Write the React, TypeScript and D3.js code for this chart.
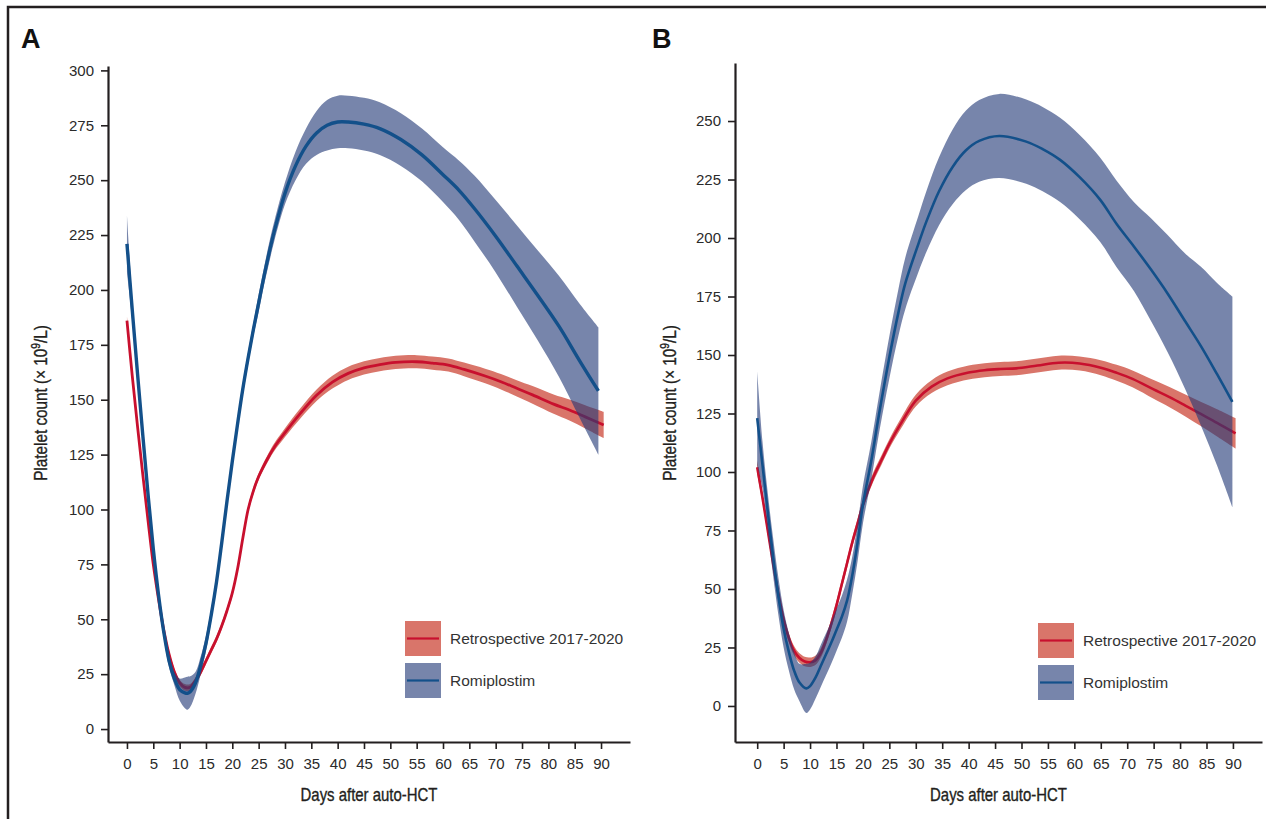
import { useEffect, useRef } from "react";
import * as d3 from "d3";

const WIDTH = 1266;
const HEIGHT = 819;

const dayTicks = [0, 5, 10, 15, 20, 25, 30, 35, 40, 45, 50, 55, 60, 65, 70, 75, 80, 85, 90];
const aCountTicks = [0, 25, 50, 75, 100, 125, 150, 175, 200, 225, 250, 275, 300];
const bCountTicks = [0, 25, 50, 75, 100, 125, 150, 175, 200, 225, 250];
const seriesNames = ["Retrospective 2017-2020", "Romiplostim"];

// Panel A - retrospective cohort (mean and half-width of the band)
const aRetroDays = [0, 1, 2, 3, 4, 5, 6, 7, 8, 9, 10, 11, 12, 13, 14, 15, 16, 17, 18, 19, 20, 21, 22, 23, 24, 25, 26, 27, 28, 30, 33, 36, 39, 42, 45, 48, 51, 55, 58, 61, 64, 68, 71, 74, 77, 81, 84, 87, 90.5];
const aRetroMean = [186, 161, 138, 116, 95, 75, 59, 45, 34, 26, 21, 19, 19, 22, 26, 31, 36, 41, 47, 54, 62, 73, 87, 100, 108.5, 115, 120, 124.5, 128.5, 135, 144, 152, 158, 162, 164.5, 166, 167, 167.3, 166.7, 165.8, 163.8, 160.8, 158.2, 155.2, 152.2, 148, 145.3, 142.2, 138.5];
const aRetroCi = [2, 1.5, 1.5, 1.5, 1.5, 1.5, 1.5, 1.5, 1.5, 1.5, 1.5, 1.5, 1.5, 1.5, 1.5, 1.5, 1.5, 1.5, 1.5, 1.5, 1.5, 1.5, 1.5, 1.5, 1.5, 1.5, 1.6, 1.7, 1.8, 2, 2.3, 2.6, 2.9, 3, 3, 3, 3, 3, 3, 3, 3.1, 3.3, 3.5, 3.7, 4, 4.4, 4.8, 5.3, 6];

// Panel A - romiplostim
const aRomiDays = [0, 1, 2, 3, 4, 5, 6, 7, 8, 9, 10, 11, 11.5, 12, 13, 14, 15, 16, 17, 18, 19, 20, 21, 22, 23, 24, 25, 26, 27, 28, 30, 32, 34, 36, 38, 40, 42, 45, 48, 52, 56, 60, 63, 66, 70, 74, 78, 82, 86, 89.5];
const aRomiMean = [221, 191, 162, 134, 107, 82, 61, 44, 31, 23, 18, 16.5, 16.3, 17, 21, 29, 39, 52, 67, 85, 104, 122, 139, 155, 169, 182, 194, 206, 217, 227, 244, 256.5, 265.5, 271.5, 275, 276.5, 276.5, 275.5, 273.5, 268.5, 261.5, 252.5, 245.5, 237, 224.5, 211, 197.5, 183.5, 167.5, 154];
const aRomiCi = [13, 5, 3.5, 3, 3, 3, 3, 3, 3, 3, 5, 7, 7.5, 7, 5, 4, 3.5, 3, 3, 3, 3, 3, 3, 3, 3, 3, 4, 4, 4.5, 4.5, 5, 6.5, 8, 10, 11.5, 12, 12, 12, 12, 12, 12, 12.5, 13.5, 15, 16.5, 18.5, 20.5, 23, 26, 29];

// Panel B - retrospective cohort
const bRetroDays = [0, 1, 2, 3, 4, 5, 6, 7, 8, 9, 10, 11, 12, 13, 14, 15, 16, 17, 18, 19, 20, 22, 23.5, 25, 27, 30, 33, 36, 40, 43, 46, 49, 53, 57, 61, 65, 68, 71, 75, 78, 81, 84, 87, 90.5];
const bRetroMean = [102, 89, 75, 61, 48, 37, 29, 23.5, 20.5, 19, 18.7, 19.5, 22.5, 28, 35, 43, 52, 61, 70, 78, 86, 98, 105, 112, 120, 130.5, 136.5, 140, 142.5, 143.5, 144, 144.3, 145.5, 146.7, 146.4, 144.6, 142.4, 139.8, 135.3, 132, 128.4, 124.7, 121, 116.5];
const bRetroCi = [3, 2, 2, 2, 2, 2, 2, 2, 2, 2, 2, 2, 2, 2, 2, 2, 2, 2, 2, 2, 2, 2, 2, 2, 2.2, 2.5, 2.7, 2.9, 3, 3, 3, 3, 3, 3, 3, 3.2, 3.4, 3.6, 4, 4.3, 4.7, 5.2, 5.8, 6.5];

// Panel B - romiplostim
const bRomiDays = [0, 1, 2, 3, 4, 5, 6, 7, 8, 9.3, 10, 11, 12, 13, 14, 15, 16, 17, 18, 19, 20, 21.6, 23, 25, 26.7, 28, 30.5, 32, 34.4, 37, 39.5, 42, 45.8, 50.9, 54, 57.3, 61, 64.9, 68, 71.3, 74.5, 77.6, 81, 84, 87, 89.9];
const bRomiMean = [123, 103, 83, 64, 47, 33, 23, 15, 10, 7.5, 8.5, 12, 17, 22, 27, 32.5, 38, 45, 56, 70, 86, 105, 124, 149, 168, 180.5, 197.5, 207, 220, 230.5, 237.5, 241.5, 243.6, 241.2, 238, 233.4, 226, 216.3, 206, 196.3, 186.5, 176.4, 164.3, 153.6, 141.8, 130];
const bRomiCi = [20, 10, 8, 8, 8, 8, 8, 8, 8, 10.5, 10, 9, 9, 9, 9, 9, 9, 9, 8, 8, 8, 8, 8, 9, 10, 11, 12, 13, 14.5, 16, 17, 17.5, 18, 18, 18, 18, 18, 18, 18.5, 19, 22, 25, 29, 34, 39, 45];

const RED_BAND = "#d9756a";
const RED_LINE = "#c8102e";
const BLUE_BAND = "rgba(36,58,120,0.62)";
const BLUE_LINE = "#13508a";
const INK = "#231f20";
const FONT = "'Liberation Sans', Arial, sans-serif";

type Row = { d: number; m: number; lo: number; hi: number };
const rows = (days: number[], mean: number[], ci: number[]): Row[] =>
  days.map((d, i) => ({ d, m: mean[i], lo: mean[i] - ci[i], hi: mean[i] + ci[i] }));

const panels = [
  {
    label: "A",
    x: d3.scaleLinear().domain([-3.6, 95.5]).range([108, 630]),
    y: d3.scaleLinear().domain([-5.9, 302]).range([742, 66]),
    yTicks: aCountTicks,
    retro: rows(aRetroDays, aRetroMean, aRetroCi),
    romi: rows(aRomiDays, aRomiMean, aRomiCi),
    blueWidth: 3.4,
    redWidth: 2.8,
    legend: [405, 621],
    labelX: 21,
    yTitleX: 47,
  },
  {
    label: "B",
    x: d3.scaleLinear().domain([-4.2, 95.5]).range([735, 1262]),
    y: d3.scaleLinear().domain([-15.4, 274.8]).range([742, 63]),
    yTicks: bCountTicks,
    retro: rows(bRetroDays, bRetroMean, bRetroCi),
    romi: rows(bRomiDays, bRomiMean, bRomiCi),
    blueWidth: 2.6,
    redWidth: 2.6,
    legend: [1038, 623],
    labelX: 652,
    yTitleX: 676,
  },
];

const App = () => {
  const svgRef = useRef<SVGSVGElement>(null);

  useEffect(() => {
    const svg = d3.select(svgRef.current);
    svg.selectAll("*").remove();

    // figure frame (top and left edges)
    svg.append("path")
      .attr("d", `M8,${HEIGHT} L8,7 L${WIDTH},7`)
      .attr("fill", "none")
      .attr("stroke", INK)
      .attr("stroke-width", 2.5);

    const curve = d3.curveCatmullRom.alpha(0.5);

    panels.forEach((p) => {
      const g = svg.append("g");
      const { x, y } = p;

      const area = d3.area<Row>()
        .x((d) => x(d.d))
        .y0((d) => y(d.lo))
        .y1((d) => y(d.hi))
        .curve(curve);
      const line = d3.line<Row>()
        .x((d) => x(d.d))
        .y((d) => y(d.m))
        .curve(curve);

      g.append("path").attr("d", area(p.retro)).attr("fill", RED_BAND);
      g.append("path").attr("d", line(p.retro)).attr("fill", "none")
        .attr("stroke", RED_LINE).attr("stroke-width", p.redWidth);
      g.append("path").attr("d", area(p.romi)).attr("fill", BLUE_BAND);
      g.append("path").attr("d", line(p.romi)).attr("fill", "none")
        .attr("stroke", BLUE_LINE).attr("stroke-width", p.blueWidth);

      // axes
      const xAxis = g.append("g")
        .attr("transform", `translate(0,${y.range()[0]})`)
        .call(d3.axisBottom(x).tickValues(dayTicks).tickSize(7).tickSizeOuter(0).tickPadding(9));
      const yAxis = g.append("g")
        .attr("transform", `translate(${x.range()[0]},0)`)
        .call(d3.axisLeft(y).tickValues(p.yTicks).tickSize(7).tickSizeOuter(0).tickPadding(7));
      [xAxis, yAxis].forEach((ax) => {
        ax.select(".domain").attr("stroke", INK).attr("stroke-width", 2.2);
        ax.selectAll(".tick line").attr("stroke", INK).attr("stroke-width", 1.6);
        ax.selectAll(".tick text")
          .attr("fill", "#2a2a2a")
          .attr("font-size", 15)
          .attr("font-family", FONT);
      });

      // panel letter
      g.append("text")
        .attr("x", p.labelX)
        .attr("y", 48)
        .attr("font-family", FONT)
        .attr("font-weight", "bold")
        .attr("font-size", 27)
        .attr("fill", "#111")
        .text(p.label);

      // axis titles, condensed
      const [x0, x1] = x.range();
      g.append("text")
        .attr("transform", `translate(${(x0 + x1) / 2},801) scale(0.83,1)`)
        .attr("text-anchor", "middle")
        .attr("font-family", FONT)
        .attr("font-size", 18)
        .attr("fill", INK)
        .attr("stroke", INK)
        .attr("stroke-width", 0.35)
        .text("Days after auto-HCT");

      const yt = g.append("text")
        .attr("transform", `translate(${p.yTitleX},403) rotate(-90) scale(0.85,1)`)
        .attr("text-anchor", "middle")
        .attr("font-family", FONT)
        .attr("font-size", 18)
        .attr("fill", INK)
        .attr("stroke", INK)
        .attr("stroke-width", 0.35);
      yt.append("tspan").text("Platelet count (× 10");
      yt.append("tspan").attr("dy", -7).attr("font-size", 12).text("9");
      yt.append("tspan").attr("dy", 7).text("/L)");

      // legend
      const [lx, ly] = p.legend;
      const entries = [
        { name: seriesNames[0], band: RED_BAND, stroke: RED_LINE },
        { name: seriesNames[1], band: BLUE_BAND, stroke: BLUE_LINE },
      ];
      entries.forEach((e, i) => {
        const top = ly + i * 42;
        g.append("rect")
          .attr("x", lx).attr("y", top)
          .attr("width", 36).attr("height", 35)
          .attr("fill", e.band);
        g.append("line")
          .attr("x1", lx + 2).attr("x2", lx + 34)
          .attr("y1", top + 17.5).attr("y2", top + 17.5)
          .attr("stroke", e.stroke).attr("stroke-width", 2.2);
        g.append("text")
          .attr("x", lx + 45)
          .attr("y", top + 23)
          .attr("font-family", FONT)
          .attr("font-size", 15.5)
          .attr("fill", "#333")
          .text(e.name);
      });
    });
  }, []);

  return (
    <div style={{ position: "absolute", left: 0, top: 0, width: WIDTH, height: HEIGHT, background: "#fff" }}>
      <svg ref={svgRef} width={WIDTH} height={HEIGHT} viewBox={`0 0 ${WIDTH} ${HEIGHT}`}></svg>
    </div>
  );
};

export default App;
